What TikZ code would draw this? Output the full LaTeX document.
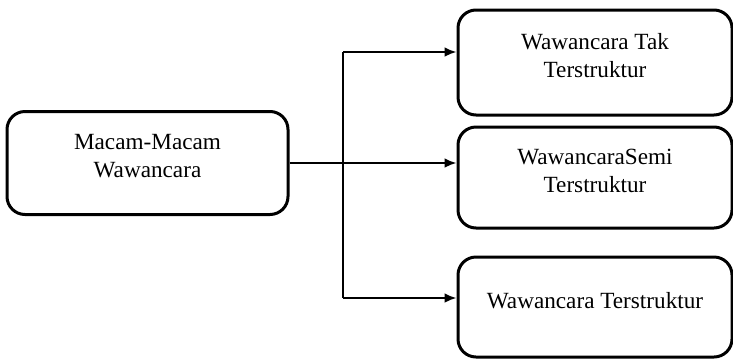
\documentclass[tikz,border=0pt]{standalone}
\usepackage{fontspec}
\setmainfont{Liberation Serif}
\usetikzlibrary{arrows.meta,calc}

\begin{document}
\begin{tikzpicture}[>={Latex[length=6pt,width=5pt]}, x=0.5pt, y=-0.5pt,
    kotak/.style={draw, line width=1.5pt, rounded corners=9pt, align=center,
        font=\fontsize{11.6}{14}\selectfont, text depth=7pt, inner sep=0pt},
    panah/.style={->, line width=1.2pt}]
    \useasboundingbox (0, 0) rectangle (733, 360);

    % Left box
    \node[kotak, minimum width=140.5pt, minimum height=51.5pt] (macam) at (147.5, 163) {Macam-Macam\\Wawancara};

    % Right boxes
    \node[kotak, minimum width=137pt, minimum height=52.5pt] (tak) at (595, 62.5) {Wawancara Tak\\Terstruktur};
    \node[kotak, minimum width=137pt, minimum height=50.5pt] (semi) at (595, 177.5) {WawancaraSemi\\Terstruktur};
    \node[kotak, minimum width=137pt, minimum height=50pt] (struk) at (595, 307) {Wawancara Terstruktur};

    % Branch points
    \coordinate (atas) at (343, 52);
    \coordinate (bawah) at (343, 298);

    % Arrows
    \draw[line width=1.2pt] (atas) -- (bawah);
    \draw[panah] (macam.east) -- (macam.east -| semi.west);
    \draw[panah] (atas) -- (atas -| tak.west);
    \draw[panah] (bawah) -- (bawah -| struk.west);
\end{tikzpicture}
\end{document}
